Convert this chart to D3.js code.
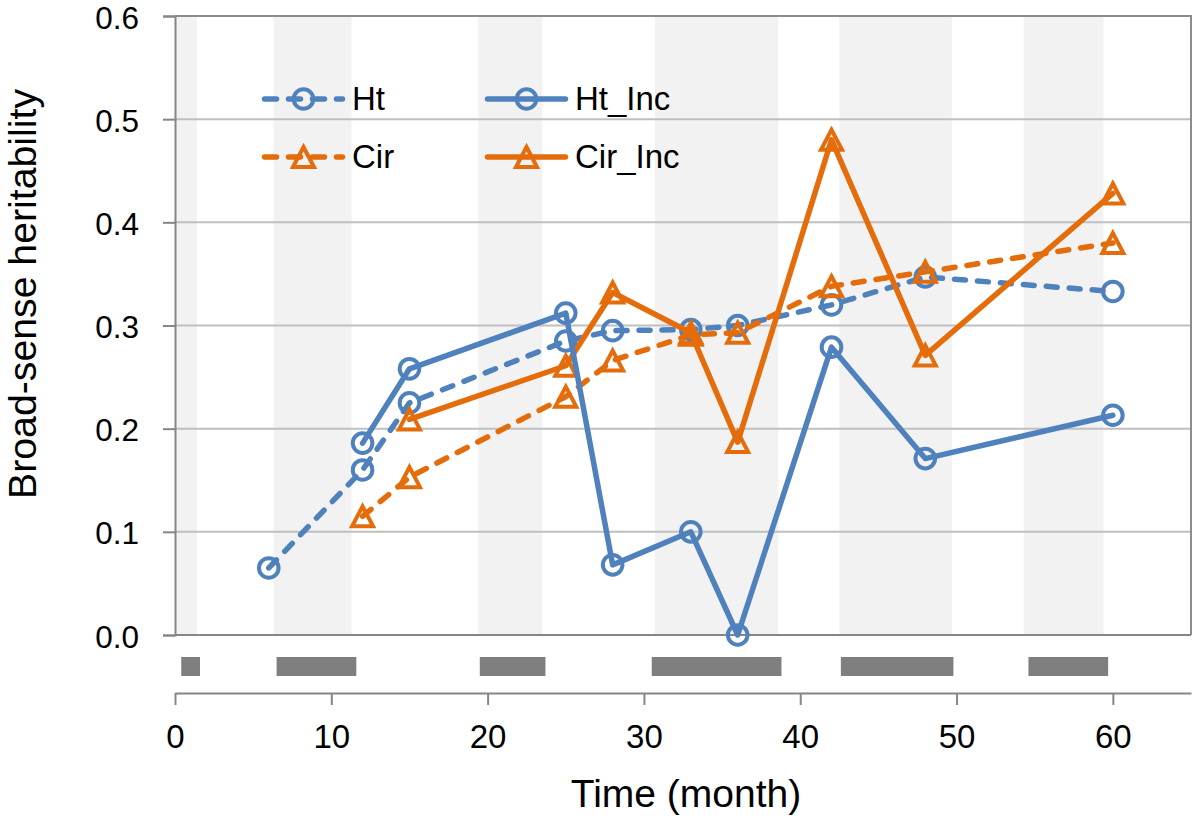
<!DOCTYPE html>
<html>
<head>
<meta charset="utf-8">
<script src="https://cdn.jsdelivr.net/npm/d3@7"></script>
<style>
  html, body { margin: 0; padding: 0; background: #fff; }
  svg { display: block; }
  text { font-family: "Liberation Sans", Arial, sans-serif; fill: #000; }
</style>
</head>
<body>
<svg id="chart" width="1200" height="816"></svg>
<script>
// ---- data ----
const htMonths      = [6, 12, 15, 25, 28, 33, 36, 42, 48, 60];
const htValues      = [0.065, 0.160, 0.225, 0.285, 0.295, 0.296, 0.300, 0.320, 0.347, 0.333];
const htIncMonths   = [12, 15, 25, 28, 33, 36, 42, 48, 60];
const htIncValues   = [0.186, 0.258, 0.312, 0.068, 0.100, 0.000, 0.279, 0.171, 0.213];
const cirMonths     = [12, 15, 25, 28, 33, 36, 42, 48, 60];
const cirValues     = [0.115, 0.153, 0.231, 0.266, 0.291, 0.293, 0.338, 0.352, 0.380];
const cirIncMonths  = [15, 25, 28, 33, 36, 42, 48, 60];
const cirIncValues  = [0.209, 0.261, 0.332, 0.293, 0.187, 0.480, 0.271, 0.428];
// shaded background periods (months) and bottom period bars (months)
const bandPeriods   = [[0, 1.4], [6.3, 11.3], [19.4, 23.5], [30.7, 38.6], [42.5, 49.7], [54.3, 59.4]];
const barPeriods    = [[0.4, 1.6], [6.5, 11.6], [19.5, 23.7], [30.5, 38.8], [42.6, 49.8], [54.6, 59.7]];
const xTicks        = [0, 10, 20, 30, 40, 50, 60];
const yTicks        = [0, 0.1, 0.2, 0.3, 0.4, 0.5, 0.6];
const seriesNames   = ["Ht", "Ht_Inc", "Cir", "Cir_Inc"];

// ---- layout ----
const svg = d3.select("#chart");
const L = 175, R = 1191, T = 16, B = 635;
const xAxisY = 693;
const BLUE = "#4f81bd", ORANGE = "#e46c0a";
const YTICK_FONT = 31.5, XTICK_FONT = 33, LEGEND_FONT = 33, TITLE_FONT = 38;

const x = d3.scaleLinear().domain([0, 65]).range([L, R]);
const y = d3.scaleLinear().domain([0, 0.6]).range([B, T]);

// background bands
svg.append("g").selectAll("rect").data(bandPeriods).join("rect")
  .attr("x", d => x(d[0])).attr("width", d => x(d[1]) - x(d[0]))
  .attr("y", T).attr("height", B - T)
  .attr("fill", "#f2f2f2");

// gridlines
svg.append("g").selectAll("line").data(yTicks.filter(v => v > 0 && v < 0.6)).join("line")
  .attr("x1", L).attr("x2", R).attr("y1", d => y(d)).attr("y2", d => y(d))
  .attr("stroke", "#bfbfbf").attr("stroke-width", 2);

// plot border top/right
svg.append("path")
  .attr("d", `M${L},${y(0.6)}H${R}V${B}`)
  .attr("fill", "none").attr("stroke", "#8c8c8c").attr("stroke-width", 2);

// y axis
const yAxis = d3.axisLeft(y).tickValues(yTicks).tickFormat(d3.format(".1f")).tickSize(12).tickPadding(24);
const gy = svg.append("g").attr("transform", `translate(${L},0)`).call(yAxis);
gy.select(".domain").attr("stroke", "#868686").attr("stroke-width", 2);
gy.selectAll(".tick line").attr("stroke", "#868686").attr("stroke-width", 2);
gy.selectAll(".tick text").attr("font-size", YTICK_FONT).attr("font-family", "Liberation Sans, Arial, sans-serif")
  .attr("fill", "#000").attr("dy", "12px");

// bottom of plot (y=0 line)
svg.append("line").attr("x1", L).attr("x2", R).attr("y1", B).attr("y2", B)
  .attr("stroke", "#868686").attr("stroke-width", 2);

// period bars
svg.append("g").selectAll("rect").data(barPeriods).join("rect")
  .attr("x", d => x(d[0])).attr("width", d => x(d[1]) - x(d[0]))
  .attr("y", 657).attr("height", 19)
  .attr("fill", "#7f7f7f");

// x axis
const xAxis = d3.axisBottom(x).tickValues(xTicks).tickSize(12).tickPadding(20).tickSizeOuter(0);
const gx = svg.append("g").attr("transform", `translate(0,${xAxisY})`).call(xAxis);
gx.select(".domain").attr("stroke", "#868686").attr("stroke-width", 2);
gx.selectAll(".tick line").attr("stroke", "#868686").attr("stroke-width", 2);
gx.selectAll(".tick text").attr("font-size", XTICK_FONT).attr("font-family", "Liberation Sans, Arial, sans-serif")
  .attr("fill", "#000");

// axis titles
svg.append("text").attr("x", 686).attr("y", 807).attr("text-anchor", "middle")
  .attr("font-size", 39).text("Time (month)");
svg.append("text").attr("transform", "translate(36,294) rotate(-90)").attr("text-anchor", "middle")
  .attr("font-size", TITLE_FONT).attr("textLength", 410).attr("lengthAdjust", "spacingAndGlyphs")
  .text("Broad-sense heritability");

// ---- series ----
const line = d3.line().x(d => x(d[0])).y(d => y(d[1]));
const triPath = "M0,-10L10.5,10L-10.5,10Z";
const series = [
  { name: seriesNames[0], months: htMonths, values: htValues, color: BLUE, dashed: true, marker: "circle" },
  { name: seriesNames[2], months: cirMonths, values: cirValues, color: ORANGE, dashed: true, marker: "tri" },
  { name: seriesNames[3], months: cirIncMonths, values: cirIncValues, color: ORANGE, dashed: false, marker: "tri" },
  { name: seriesNames[1], months: htIncMonths, values: htIncValues, color: BLUE, dashed: false, marker: "circle" }
];

function drawMarker(g, cx, cy, s) {
  if (s.marker === "circle") {
    g.append("circle").attr("cx", cx).attr("cy", cy).attr("r", 9.8)
      .attr("fill", "none").attr("stroke", s.color).attr("stroke-width", 4);
  } else {
    g.append("path").attr("d", triPath).attr("transform", `translate(${cx},${cy})`)
      .attr("fill", "none").attr("stroke", s.color).attr("stroke-width", 4);
  }
}

series.forEach(s => {
  const pts = s.months.map((m, i) => [m, s.values[i]]);
  const g = svg.append("g");
  g.append("path").datum(pts).attr("d", line)
    .attr("fill", "none").attr("stroke", s.color).attr("stroke-width", 5.5)
    .attr("stroke-linecap", "round").attr("stroke-linejoin", "round")
    .attr("stroke-dasharray", s.dashed ? "11,12" : null);
  pts.forEach(p => drawMarker(g, x(p[0]), y(p[1]), s));
});

// ---- legend ----
const legendItems = [
  { s: series[0], lx: 262, ly: 99 },
  { s: series[3], lx: 485, ly: 99 },
  { s: series[1], lx: 262, ly: 157 },
  { s: series[2], lx: 485, ly: 157 }
];
legendItems.forEach(it => {
  const g = svg.append("g");
  g.append("line").attr("x1", it.lx + 2.5).attr("x2", it.lx + 83 - 2.5).attr("y1", it.ly).attr("y2", it.ly)
    .attr("stroke", it.s.color).attr("stroke-width", 5.5).attr("stroke-linecap", "round")
    .attr("stroke-dasharray", it.s.dashed ? "12,12" : null);
  drawMarker(g, it.lx + 41.5, it.ly, it.s);
  g.append("text").attr("x", it.lx + 90).attr("y", it.ly + 11).attr("font-size", LEGEND_FONT).text(it.s.name);
});
</script>
</body>
</html>
